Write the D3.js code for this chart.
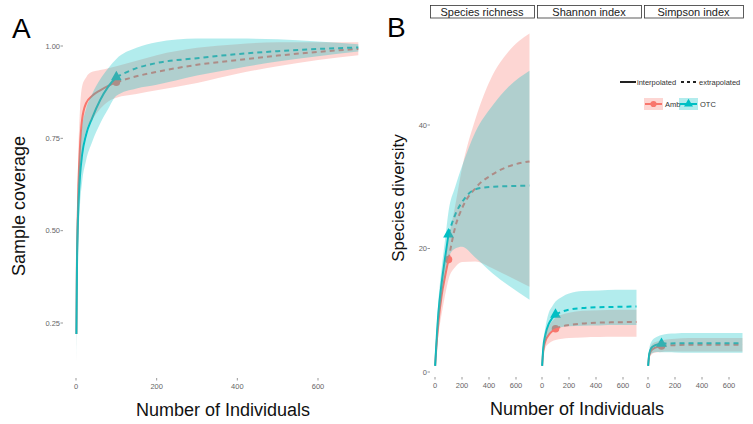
<!DOCTYPE html>
<html><head><meta charset="utf-8">
<script src="https://cdn.jsdelivr.net/npm/d3@7"></script>
<style>body{margin:0;background:#fff;}svg{display:block;font-family:"Liberation Sans",Arial,sans-serif;}</style>
</head><body><svg id="c" width="753" height="424"></svg>
<script>
// ---------- DATA ----------
const groups = ["Amb", "OTC"];
const colors = ["#F8766D", "#00BFC4"];
const facetNames = ["Species richness", "Shannon index", "Simpson index"];
const xTicks = [0, 200, 400, 600];
const covTicks = [0.25, 0.50, 0.75, 1.00];
const divTicks = [0, 20, 40];

// Panel A: sample coverage
const covMInt = [1, 2, 4, 6, 10, 15, 25, 40, 60, 80, 100];
const covAmbInt = [0.22, 0.38, 0.52, 0.62, 0.73, 0.80, 0.845, 0.865, 0.88, 0.892, 0.902];
const covOTCInt = [0.22, 0.36, 0.50, 0.57, 0.65, 0.705, 0.76, 0.805, 0.854, 0.89, 0.916];
const covMExt = [100, 150, 200, 300, 400, 500, 600, 700];
const covAmbExt = [0.902, 0.918, 0.93, 0.949, 0.962, 0.974, 0.984, 0.992];
const covOTCExt = [0.916, 0.94, 0.954, 0.967, 0.978, 0.986, 0.992, 0.996];
const covMAll = [1, 2, 4, 6, 10, 15, 25, 40, 60, 80, 100, 150, 200, 300, 400, 500, 600, 700];
const covAmbLo = [0.15, 0.28, 0.42, 0.52, 0.63, 0.71, 0.77, 0.80, 0.83, 0.85, 0.86, 0.87, 0.88, 0.90, 0.925, 0.945, 0.962, 0.975];
const covAmbHi = [0.29, 0.48, 0.62, 0.72, 0.83, 0.89, 0.915, 0.93, 0.935, 0.94, 0.945, 0.96, 0.975, 0.995, 1.005, 1.01, 1.01, 1.01];
const covOTCLo = [0.14, 0.26, 0.40, 0.48, 0.57, 0.63, 0.69, 0.74, 0.79, 0.83, 0.865, 0.885, 0.895, 0.92, 0.94, 0.958, 0.972, 0.985];
const covOTCHi = [0.30, 0.46, 0.60, 0.66, 0.73, 0.78, 0.83, 0.87, 0.91, 0.94, 0.965, 0.995, 1.01, 1.02, 1.02, 1.018, 1.012, 1.005];

// Panel B: diversity (m values shared by all facets)
const divMInt = [1, 10, 25, 50, 75, 100];
const divMExt = [100, 150, 200, 300, 425, 545, 700];
const divMAll = [1, 10, 25, 50, 75, 100, 150, 200, 300, 425, 545, 700];
// Species richness
const richAmbInt = [1, 4, 8, 12.5, 15.5, 18.2];
const richOTCInt = [1, 4.5, 9.5, 14.5, 18.5, 22.3];
const richAmbExt = [18.2, 23.5, 26.5, 29.8, 32, 33.3, 34.1];
const richOTCExt = [22.3, 25.5, 27.5, 29.6, 30, 30.1, 30.2];
const richAmbLo = [1, 3, 6, 9.5, 12.5, 15, 17, 17.8, 17.9, 16.8, 15.5, 13.8];
const richAmbHi = [1, 5, 10, 15, 18.5, 21.5, 27, 33, 41, 48, 51.9, 54.8];
const richOTCLo = [1, 3.5, 7.5, 12, 16, 18.5, 20, 20.3, 18.5, 16, 14, 11.7];
const richOTCHi = [1, 6, 11.5, 17, 21.5, 26, 30, 33.3, 38.9, 43.1, 46.2, 48.8];
// Shannon index
const shanAmbInt = [1, 3.5, 5, 6, 6.6, 7.0];
const shanOTCInt = [1, 4, 6, 7.8, 8.7, 9.3];
const shanAmbExt = [7.0, 7.4, 7.6, 7.85, 8.0, 8.05, 8.1];
const shanOTCExt = [9.3, 9.8, 10.1, 10.35, 10.5, 10.55, 10.6];
const shanAmbLo = [1, 2.8, 3.9, 4.6, 5.0, 5.2, 5.4, 5.5, 5.6, 5.65, 5.7, 5.7];
const shanAmbHi = [1, 4.2, 6.1, 7.4, 8.2, 8.8, 9.3, 9.6, 9.9, 10.0, 10.1, 10.1];
const shanOTCLo = [1, 3.2, 4.8, 6.2, 6.8, 7.1, 7.3, 7.4, 7.5, 7.55, 7.6, 7.6];
const shanOTCHi = [1, 4.8, 7.2, 9.6, 10.6, 11.4, 12.2, 12.7, 13.1, 13.2, 13.3, 13.3];
// Simpson index
const simpAmbInt = [1, 2.8, 3.5, 3.9, 4.1, 4.2];
const simpOTCInt = [1, 3.0, 3.9, 4.3, 4.5, 4.6];
const simpAmbExt = [4.2, 4.3, 4.35, 4.4, 4.4, 4.4, 4.4];
const simpOTCExt = [4.6, 4.62, 4.64, 4.65, 4.66, 4.66, 4.66];
const simpAmbLo = [1, 2.2, 2.8, 3.1, 3.2, 3.25, 3.3, 3.3, 3.3, 3.3, 3.3, 3.3];
const simpAmbHi = [1, 3.4, 4.3, 4.8, 5.0, 5.1, 5.3, 5.4, 5.5, 5.5, 5.5, 5.5];
const simpOTCLo = [1, 2.3, 3.0, 3.2, 3.25, 3.2, 3.2, 3.15, 3.1, 3.1, 3.1, 3.1];
const simpOTCHi = [1, 3.8, 4.9, 5.5, 5.8, 6.0, 6.2, 6.25, 6.3, 6.3, 6.3, 6.3];

// ---------- DRAW ----------
const svg = d3.select("#c");
const fillAlpha = 0.3;
const tickCol = "#555";

function zip(xs, ys) { return xs.map((x, i) => [x, ys[i]]); }

function drawSeries(g, x, y, s) {
  // s: {mInt, int:[a,b], mExt, ext:[a,b], mAll, lo:[a,b], hi:[a,b]}
  const line = d3.line().x(d => x(d[0])).y(d => y(d[1])).curve(d3.curveMonotoneX);
  const area = d3.area().x(d => x(d[0])).y0(d => y(d[1])).y1(d => y(d[2])).curve(d3.curveMonotoneX);
  groups.forEach((gname, i) => {
    g.append("path").attr("d", line(zip(s.mInt, s.int[i]))).attr("fill", "none")
      .attr("stroke", colors[i]).attr("stroke-width", 2);
    g.append("path").attr("d", line(zip(s.mExt, s.ext[i]))).attr("fill", "none")
      .attr("stroke", colors[i]).attr("stroke-width", 2).attr("stroke-dasharray", "5,4");
    const px = x(s.mInt[s.mInt.length - 1]), py = y(s.int[i][s.int[i].length - 1]);
    const sym = d3.symbol().type(i === 0 ? d3.symbolCircle : d3.symbolTriangle).size(i === 0 ? 45 : 50);
    g.append("path").attr("d", sym()).attr("transform", `translate(${px},${py})`).attr("fill", colors[i]);
  });
  groups.forEach((gname, i) => {
    const pts = s.mAll.map((m, k) => [m, s.lo[i][k], s.hi[i][k]]);
    g.append("path").attr("d", area(pts)).attr("fill", colors[i]).attr("fill-opacity", fillAlpha);
  });
}

function yAxis(g, y, ticks, xPos, fmt) {
  ticks.forEach(t => {
    g.append("line").attr("x1", xPos - 2.5).attr("x2", xPos).attr("y1", y(t)).attr("y2", y(t))
      .attr("stroke", tickCol).attr("stroke-width", 0.6);
    g.append("text").attr("x", xPos - 3).attr("y", y(t)).attr("dy", "0.35em")
      .attr("text-anchor", "end").attr("font-size", 7.5).attr("fill", "#666").text(fmt(t));
  });
}
function xAxis(g, x, ticks, yPos) {
  ticks.forEach(t => {
    g.append("line").attr("x1", x(t)).attr("x2", x(t)).attr("y1", yPos).attr("y2", yPos + 2.5)
      .attr("stroke", tickCol).attr("stroke-width", 0.6);
    g.append("text").attr("x", x(t)).attr("y", yPos + 11).attr("text-anchor", "middle")
      .attr("font-size", 7.5).attr("fill", "#666").text(t);
  });
}

// Panel A
const xA = d3.scaleLinear().domain([0, 600]).range([76, 318]);
const yA = d3.scaleLinear().domain([0.25, 1]).range([323, 46]);
const gA = svg.append("g");
drawSeries(gA, xA, yA, {
  mInt: covMInt, int: [covAmbInt, covOTCInt],
  mExt: covMExt, ext: [covAmbExt, covOTCExt],
  mAll: covMAll, lo: [covAmbLo, covOTCLo], hi: [covAmbHi, covOTCHi]
});
yAxis(gA, yA, covTicks, 63, d3.format(".2f"));
xAxis(gA, xA, xTicks, 378);
svg.append("text").attr("x", 12).attr("y", 38).attr("font-size", 28).text("A");
svg.append("text").attr("transform", "translate(25,206) rotate(-90)").attr("text-anchor", "middle")
  .attr("font-size", 18).attr("fill", "#111").text("Sample coverage");
svg.append("text").attr("x", 223).attr("y", 416).attr("text-anchor", "middle")
  .attr("font-size", 18).attr("fill", "#111").text("Number of Individuals");

// Panel B
const yB = d3.scaleLinear().domain([0, 40]).range([372, 125]);
const facetOffsets = [435, 542, 648];
const facetData = [
  {int: [richAmbInt, richOTCInt], ext: [richAmbExt, richOTCExt], lo: [richAmbLo, richOTCLo], hi: [richAmbHi, richOTCHi]},
  {int: [shanAmbInt, shanOTCInt], ext: [shanAmbExt, shanOTCExt], lo: [shanAmbLo, shanOTCLo], hi: [shanAmbHi, shanOTCHi]},
  {int: [simpAmbInt, simpOTCInt], ext: [simpAmbExt, simpOTCExt], lo: [simpAmbLo, simpOTCLo], hi: [simpAmbHi, simpOTCHi]}
];
const stripX = [[430, 534], [537, 641], [644, 743]];
facetNames.forEach((name, f) => {
  const xB = d3.scaleLinear().domain([0, 600]).range([facetOffsets[f], facetOffsets[f] + 81]);
  const g = svg.append("g");
  const d = facetData[f];
  drawSeries(g, xB, yB, {mInt: divMInt, int: d.int, mExt: divMExt, ext: d.ext, mAll: divMAll, lo: d.lo, hi: d.hi});
  xAxis(g, xB, xTicks, 377);
  svg.append("rect").attr("x", stripX[f][0] + 0.5).attr("y", 5.5).attr("width", stripX[f][1] - stripX[f][0])
    .attr("height", 12.5).attr("fill", "#fff").attr("stroke", "#333").attr("stroke-width", 0.8);
  svg.append("text").attr("x", (stripX[f][0] + stripX[f][1]) / 2).attr("y", 15.5).attr("text-anchor", "middle")
    .attr("font-size", 11).attr("fill", "#222").text(name);
});
yAxis(svg.append("g"), yB, divTicks, 430, d3.format("d"));
svg.append("text").attr("x", 387).attr("y", 37).attr("font-size", 28).text("B");
svg.append("text").attr("transform", "translate(404,198) rotate(-90)").attr("text-anchor", "middle")
  .attr("font-size", 17).attr("fill", "#111").text("Species diversity");
svg.append("text").attr("x", 577).attr("y", 415).attr("text-anchor", "middle")
  .attr("font-size", 18).attr("fill", "#111").text("Number of Individuals");

// Legend
const lg = svg.append("g").attr("font-size", 7.5).attr("fill", "#333");
lg.append("line").attr("x1", 620).attr("x2", 636).attr("y1", 82).attr("y2", 82).attr("stroke", "#222").attr("stroke-width", 2);
lg.append("text").attr("x", 637).attr("y", 82).attr("dy", "0.35em").text("interpolated");
lg.append("line").attr("x1", 681).attr("x2", 697).attr("y1", 82).attr("y2", 82).attr("stroke", "#222")
  .attr("stroke-width", 2).attr("stroke-dasharray", "3,3");
lg.append("text").attr("x", 699).attr("y", 82).attr("dy", "0.35em").text("extrapolated");
const keyX = [644, 679], labX = [664, 699];
groups.forEach((gname, i) => {
  lg.append("rect").attr("x", keyX[i]).attr("y", 98).attr("width", 19).attr("height", 12)
    .attr("fill", colors[i]).attr("fill-opacity", fillAlpha);
  lg.append("line").attr("x1", keyX[i] + 1).attr("x2", keyX[i] + 18).attr("y1", 104).attr("y2", 104)
    .attr("stroke", colors[i]).attr("stroke-width", 2);
  const sym = d3.symbol().type(i === 0 ? d3.symbolCircle : d3.symbolTriangle).size(i === 0 ? 30 : 35);
  lg.append("path").attr("d", sym()).attr("transform", `translate(${keyX[i] + 9.5},104)`).attr("fill", colors[i]);
  lg.append("text").attr("x", labX[i] + 1).attr("y", 104).attr("dy", "0.35em").text(gname);
});
</script></body></html>
